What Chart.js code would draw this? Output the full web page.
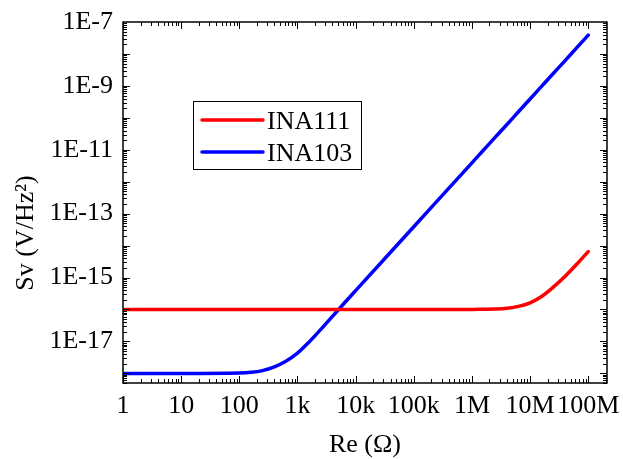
<!DOCTYPE html>
<html>
<head>
<meta charset="utf-8">
<script src="https://cdn.jsdelivr.net/npm/chart.js@4/dist/chart.umd.min.js"></script>
<style>
  html, body { margin: 0; padding: 0; background: #fff; }
  #wrap { width: 623px; height: 459px; }
</style>
</head>
<body>
<div id="wrap"><canvas id="chart" width="623" height="459"></canvas></div>
<script>
// values (log-log)
const RE = [1, 10, 100, 160, 250, 400, 630, 1000, 1600, 2500, 4000, 6300,
  1e4, 1e5, 1e6, 1.6e6, 2.5e6, 4e6, 6.3e6, 1e7, 1.6e7, 2.5e7, 4e7, 6.3e7, 1e8];
const INA111 = [1e-16, 1e-16, 1e-16, 1e-16, 1e-16, 1e-16, 1e-16, 1e-16, 1e-16, 1e-16, 1e-16, 1e-16,
  1e-16, 1e-16, 1e-16, 1.02e-16, 1.04e-16, 1.1e-16, 1.25e-16, 1.62e-16, 2.6e-16, 5e-16, 1.1e-15, 2.6e-15, 6.5e-15];
const INA103 = [1e-18, 1e-18, 1.03e-18, 1.08e-18, 1.22e-18, 1.6e-18, 2.4e-18, 4.3e-18, 9.8e-18, 2.35e-17, 6.1e-17, 1.54e-16,
  3.9e-16, 3.9e-14, 3.9e-12, 1e-11, 2.44e-11, 6.2e-11, 1.55e-10, 3.9e-10, 1e-9, 2.44e-9, 6.2e-9, 1.55e-8, 3.9e-8];

const X_TICKS = [1, 10, 100, 1e3, 1e4, 1e5, 1e6, 1e7, 1e8];
const X_LABELS = ["1", "10", "100", "1k", "10k", "100k", "1M", "10M", "100M"];
const Y_TICKS = [1e-17, 1e-15, 1e-13, 1e-11, 1e-9, 1e-7];
const Y_LABELS = ["1E-17", "1E-15", "1E-13", "1E-11", "1E-9", "1E-7"];

const SERIES = [
  { label: "INA111", values: INA111, color: "#ff0000" },
  { label: "INA103", values: INA103, color: "#0000ff" }
];

const FONT = "'Liberation Serif', 'Times New Roman', serif";

// inward ticks on all four sides, mirrored axes, legend and titles
const frame = {
  id: "frame",
  afterDatasetsDraw(chart) {
    const { ctx, chartArea: a, scales: { x, y } } = chart;
    ctx.save();
    ctx.strokeStyle = "#000";
    ctx.lineWidth = 1.5;
    ctx.strokeRect(a.left, a.top, a.right - a.left, a.bottom - a.top);
    ctx.lineWidth = 1;
    ctx.beginPath();
    for (let e = 0; e <= 8; e++) {
      for (let m = 1; m <= 9; m++) {
        const v = m * Math.pow(10, e);
        if (v > x.max) break;
        const px = Math.round(x.getPixelForValue(v)) + 0.5;
        const len = m === 1 ? 7 : 4;
        ctx.moveTo(px, a.bottom); ctx.lineTo(px, a.bottom - len);
        ctx.moveTo(px, a.top); ctx.lineTo(px, a.top + len);
      }
    }
    for (let e = -19; e <= -8; e++) {
      for (let m = 1; m <= 9; m++) {
        const v = m * Math.pow(10, e);
        if (v < y.min || v > y.max) continue;
        const py = Math.round(y.getPixelForValue(v)) + 0.5;
        const len = m === 1 ? 7 : 4;
        ctx.moveTo(a.left, py); ctx.lineTo(a.left + len, py);
        ctx.moveTo(a.right, py); ctx.lineTo(a.right - len, py);
      }
    }
    ctx.stroke();

    // legend
    ctx.lineWidth = 1;
    ctx.strokeRect(193.5, 101.5, 168, 68);
    ctx.font = "26px " + FONT;
    ctx.fillStyle = "#000";
    ctx.textAlign = "left";
    ctx.textBaseline = "alphabetic";
    SERIES.forEach((s, i) => {
      const yy = 120 + i * 32;
      ctx.strokeStyle = s.color;
      ctx.lineWidth = 3.5;
      ctx.lineCap = "round";
      ctx.beginPath();
      ctx.moveTo(202, yy); ctx.lineTo(263, yy);
      ctx.stroke();
      ctx.fillText(s.label, 267, yy + 9);
    });

    // axis titles
    ctx.textAlign = "center";
    ctx.fillText("Re (\u03A9)", 365, 452);
    ctx.translate(33, 233);
    ctx.rotate(-Math.PI / 2);
    ctx.fillText("Sv (V/Hz\u00B2)", 0, 0);
    ctx.restore();
  }
};

new Chart(document.getElementById("chart"), {
  type: "scatter",
  data: {
    datasets: SERIES.map((s) => ({
      label: s.label,
      data: RE.map((r, i) => ({ x: r, y: s.values[i] })),
      showLine: true,
      borderColor: s.color,
      backgroundColor: s.color,
      borderWidth: 3.5,
      borderCapStyle: "round",
      pointRadius: 0,
      cubicInterpolationMode: "monotone"
    }))
  },
  options: {
    responsive: false,
    animation: false,
    layout: { padding: { top: 22, right: 16, left: 0, bottom: 0 } },
    plugins: { legend: { display: false }, tooltip: { enabled: false } },
    scales: {
      x: {
        type: "logarithmic",
        min: 1,
        max: 2.1e8,
        grid: { display: false, drawTicks: false },
        border: { display: false },
        afterBuildTicks: (s) => { s.ticks = X_TICKS.map((v) => ({ value: v })); },
        afterFit: (s) => { s.height = 76; s.paddingLeft = 0; s.paddingRight = 0; },
        ticks: {
          autoSkip: false,
          maxRotation: 0,
          padding: 8,
          color: "#000",
          font: { family: FONT, size: 26 },
          callback: (v) => X_LABELS[X_TICKS.indexOf(v)] ?? ""
        }
      },
      y: {
        type: "logarithmic",
        min: 5e-19,
        max: 1e-7,
        grid: { display: false, drawTicks: false },
        border: { display: false },
        afterBuildTicks: (s) => { s.ticks = Y_TICKS.map((v) => ({ value: v })); },
        afterFit: (s) => { s.width = 123; s.paddingTop = 0; s.paddingBottom = 0; },
        ticks: {
          autoSkip: false,
          padding: 10,
          color: "#000",
          font: { family: FONT, size: 26 },
          callback: (v) => {
            const i = Y_TICKS.findIndex((t) => Math.abs(Math.log10(t) - Math.log10(v)) < 1e-6);
            return i >= 0 ? Y_LABELS[i] : "";
          }
        }
      }
    }
  },
  plugins: [frame]
});
</script>
</body>
</html>
